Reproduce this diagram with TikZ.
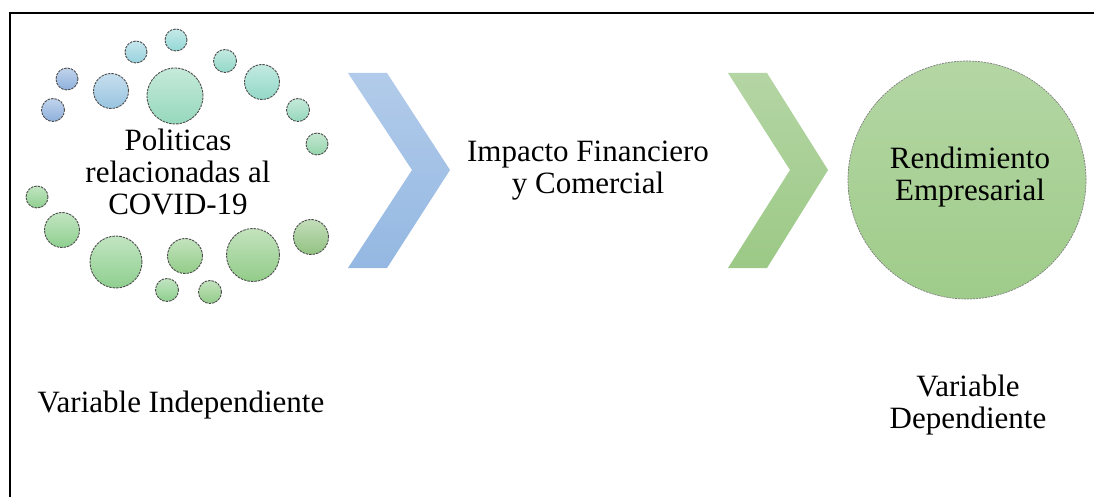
\documentclass[tikz,border=0pt]{standalone}
\usepackage{fontspec}
\setmainfont{Liberation Serif}
\newfontfamily\tnr{Liberation Serif}
\usetikzlibrary{shapes.geometric}
\definecolor{cblue}{HTML}{8EB0DC}
\definecolor{clblue}{HTML}{98C4E0}
\definecolor{ccyan}{HTML}{98D2DE}
\definecolor{cteal}{HTML}{94D8D6}
\definecolor{ctealg}{HTML}{92D8C8}
\definecolor{cmint}{HTML}{96D8BC}
\definecolor{cmintg}{HTML}{94D4AC}
\definecolor{cgreen}{HTML}{8FCF8F}
\definecolor{cgreenb}{HTML}{92CC88}
\definecolor{cdgreen}{HTML}{92C282}
\definecolor{chevb}{HTML}{94B8E2}
\definecolor{chevbt}{HTML}{B2CBEA}
\definecolor{chevg}{HTML}{9CC986}
\definecolor{chevgt}{HTML}{B4D5A4}
\definecolor{bigg}{HTML}{9FCC8A}
\definecolor{biggt}{HTML}{B4D6A4}
\tikzset{
  dot/.style={circle, inner sep=0pt, draw=black!70, line width=0.9pt,
    dash pattern=on 2.5pt off 1pt, top color=#1!55!white, bottom color=#1},
  lbl/.style={font=\tnr\fontsize{31}{32}\selectfont, align=center, inner sep=0pt}
}
\begin{document}
\begin{tikzpicture}[x=1pt,y=-1pt]
\useasboundingbox (0,0) rectangle (1094,497);
\fill[white] (0,0) rectangle (1094,497);
% frame
\draw[line width=2pt] (10,497) -- (10,13) -- (1094,13);
% circles
\node[dot=cmint, minimum size=56] (b1) at (175,96) {};
\node[dot=cblue, minimum size=22] (s1) at (67,79) {};
\node[dot=cblue, minimum size=23] (s2) at (53,110) {};
\node[dot=clblue, minimum size=35] (m1) at (111,91) {};
\node[dot=ccyan, minimum size=22] (s3) at (136,52) {};
\node[dot=cteal, minimum size=22] (s4) at (176,40) {};
\node[dot=ctealg, minimum size=23] (s5) at (225,61) {};
\node[dot=ctealg, minimum size=35] (m2) at (262,82) {};
\node[dot=cmint, minimum size=23] (s6) at (298,110) {};
\node[dot=cmintg, minimum size=22] (s7) at (317,144) {};
\node[dot=cgreen, minimum size=22] (s8) at (37,197) {};
\node[dot=cgreen, minimum size=35] (m3) at (62,230) {};
\node[dot=cgreen, minimum size=52] (b2) at (116,262) {};
\node[dot=cgreenb, minimum size=35] (m4) at (185,256) {};
\node[dot=cgreenb, minimum size=53] (b3) at (253,255) {};
\node[dot=cdgreen, minimum size=35] (m5) at (311,237) {};
\node[dot=cgreen, minimum size=23] (s9) at (167,290) {};
\node[dot=cgreenb, minimum size=23] (s10) at (210,292) {};
% chevrons
\shade[top color=chevbt, bottom color=chevb] (348,73) -- (387,73) -- (450,170) -- (387,268) -- (348,268) -- (412,170) -- cycle;
\shade[top color=chevgt, bottom color=chevg] (728,73) -- (767,73) -- (828,170) -- (767,268) -- (728,268) -- (790,170) -- cycle;
% big circle
\node[circle, minimum size=238, inner sep=0pt, draw=black!50, line width=0.7pt,
  dash pattern=on 2pt off 1pt, top color=biggt, bottom color=bigg] (rend) at (967,180) {};
% labels
\node[lbl] (pol) at (178,172) {Politicas\\relacionadas al\\COVID-19};
\node[lbl] (imp) at (588,171) {Impacto Financiero\\y Comercial};
\node[lbl] (rtx) at (970,177) {Rendimiento\\Empresarial};
\node[lbl] (vi) at (181,405) {Variable Independiente};
\node[lbl] (vd) at (968,405) {Variable\\Dependiente};
\end{tikzpicture}
\end{document}
